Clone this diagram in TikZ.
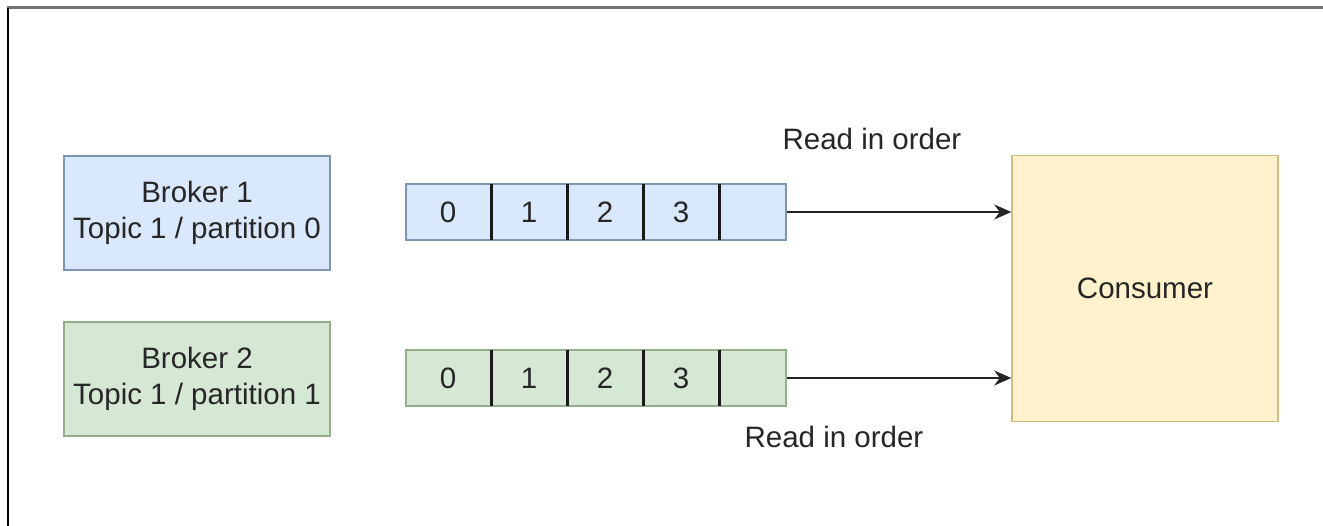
\documentclass[tikz,border=0pt]{standalone}
\usepackage{fontspec}
\setmainfont{Liberation Sans}
\usetikzlibrary{arrows.meta,calc}
\definecolor{blueFill}{HTML}{DAE8FC}
\definecolor{blueLine}{HTML}{7F95B5}
\definecolor{greenFill}{HTML}{D5E8D4}
\definecolor{greenLine}{HTML}{93AE88}
\definecolor{yellowFill}{HTML}{FFF2CC}
\definecolor{yellowLine}{HTML}{D0BC7E}
\tikzset{
  box/.style={draw,line width=1.5pt,align=center,inner sep=0pt,
    font=\fontsize{29.5}{36}\selectfont,text=black!85},
  broker/.style={box,minimum width=266pt,minimum height=114pt},
  queue/.style={draw,line width=1.5pt,minimum width=380pt,minimum height=56pt,inner sep=0pt},
  cell/.style={font=\fontsize{29.5}{36}\selectfont,text=black!85,inner sep=0pt},
  divider/.style={line width=3pt,black!90},
  readarrow/.style={-{Stealth[length=17pt,width=15pt]},line width=2pt,black!85},
  caption/.style={font=\fontsize{29.5}{36}\selectfont,text=black!85,inner sep=0pt}
}
\begin{document}
\begin{tikzpicture}[x=1pt,y=-1pt]
    \useasboundingbox[fill=white] (0,0) rectangle (1323,526);
    % frame edges
    \draw[line width=3pt,black!55] (7,8) -- (1323,8);
    \draw[line width=2.5pt,black] (8,8) -- (8,526);

    % brokers
    \node[broker,fill=blueFill,draw=blueLine] (b1) at (197,213) {Broker 1\\Topic 1 / partition 0};
    \node[broker,fill=greenFill,draw=greenLine] (b2) at (197,379) {Broker 2\\Topic 1 / partition 1};

    % partitions
    \node[queue,fill=blueFill,draw=blueLine] (q1) at (596,212) {};
    \node[queue,fill=greenFill,draw=greenLine] (q2) at (596,378) {};
    \foreach \q/\y in {1/212,2/378} {
      \foreach \i/\x in {0/448,1/529,2/605,3/681}
        \node[cell] (c\q\i) at (\x,\y) {\i};
      \foreach \x in {491,567,643,719}
        \draw[divider] (\x,\y-28) -- (\x,\y+28);
    }

    \node[box,fill=yellowFill,draw=yellowLine,minimum width=266pt,minimum height=266pt] (cons) at (1145,288.5) {Consumer};

    \draw[readarrow] (q1.east) -- (q1.east -| cons.west);
    \draw[readarrow] (q2.east) -- (q2.east -| cons.west);

    \node[caption] (r1) at (872,139) {Read in order};
    \node[caption] (r2) at (834,437) {Read in order};
  \end{tikzpicture}
\end{document}
